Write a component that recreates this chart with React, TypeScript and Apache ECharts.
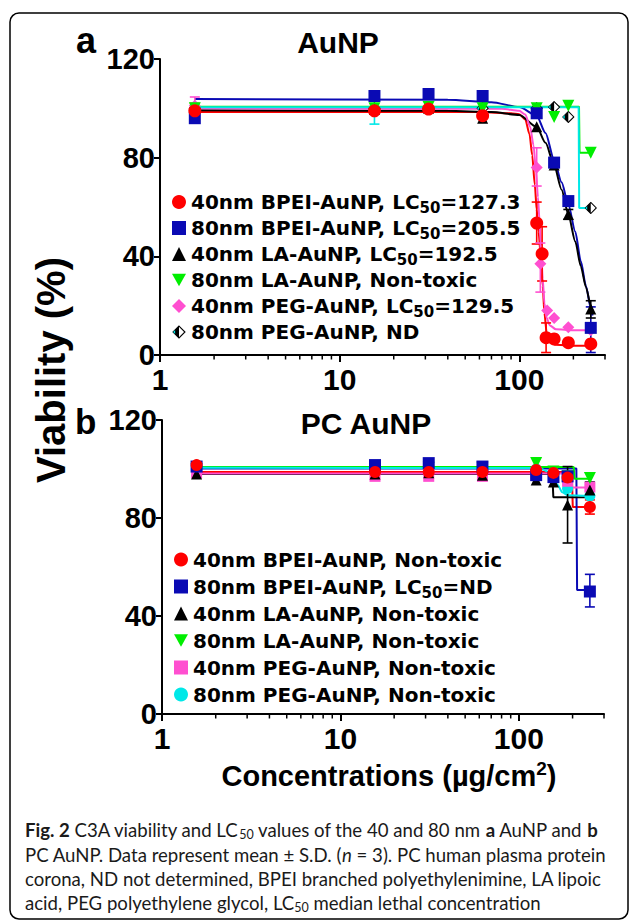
import React, { useEffect, useRef } from "react";
import * as echarts from "echarts";

// ---------- shared ----------
const CONC = [1.5625, 15.625, 31.25, 62.5, 125, 156.25, 187.5, 250];
const X_MAJOR = [1, 10, 100];
const X_MINOR = [2, 3, 4, 5, 6, 7, 8, 9, 20, 30, 40, 50, 60, 70, 80, 90, 200, 300];
const COLORS = ["#ff0000", "#0a0ab4", "#000000", "#00ee00", "#ff4fd0", "#00e8e8"];
// drawing order of the marker series (last one on top)
const MARKER_ORDER = [5, 4, 3, 2, 1, 0];

// ---------- panel a : AuNP ----------
const A_NAMES = [
  "40nm BPEI-AuNP, LC50=127.3",
  "80nm BPEI-AuNP, LC50=205.5",
  "40nm LA-AuNP, LC50=192.5",
  "80nm LA-AuNP, Non-toxic",
  "40nm PEG-AuNP, LC50=129.5",
  "80nm PEG-AuNP, ND",
];
const A_BPEI40_X = [1.5625, 15.625, 31.25, 62.5, 125, 134, 141, 156.25, 187.5, 250];
const A_BPEI40_Y = [99, 99, 99.7, 97, 53.5, 41, 7, 6.5, 5, 4.5];
const A_BPEI80_Y = [96, 105, 105.8, 105, 98, 78, 62.4, 11];
const A_LA40_Y = [99, 99.5, 100, 96, 92.5, 77, 57, 18.6];
const A_LA80_Y = [100, 100, 100.5, 100, 100, 96.5, 101, 82];
const A_PEG40_X = [1.5625, 15.625, 31.25, 62.5, 125, 131, 143, 156.25, 187.5, 250];
const A_PEG40_Y = [101, 99, 100, 98, 76, 37, 18, 15, 11.3, 10];
const A_PEG80_Y = [100, 100, 100, 100, 100, 100.5, 96.5, 59.6];

// error bars [x, low, high]
const A_BPEI40_ERR = [[1.5625, 97, 102], [125, 45, 62], [134, 30, 52], [141, 1, 13]];
const A_BPEI80_ERR = [[250, 1, 19.5]];
const A_LA40_ERR = [[250, 15, 22], [187.5, 55, 59]];
const A_PEG40_ERR = [[1.5625, 97, 104.6], [125, 68.5, 84], [131, 25.5, 45.4]];
const A_PEG80_ERR = [[15.625, 93.6, 104]];

// fitted curves [x, y]
const A_BPEI40_FIT = [[1.5625, 98.5], [60, 98.5], [90, 98], [100, 97.6], [108, 95.5], [114, 89.5], [118, 81], [122, 69], [125, 59], [128, 50], [132, 39], [135, 28], [138, 17], [142, 9], [148, 5.2], [158, 4.2], [200, 3.8], [258, 3.8]];
const A_BPEI80_FIT = [[1.5625, 103.8], [40, 103.5], [70, 102.5], [100, 100.5], [125, 97], [140, 90], [156.25, 79], [172, 70], [187.5, 61], [205, 50], [220, 38], [235, 28], [250, 19], [256, 16]];
const A_LA40_FIT = [[1.5625, 99.2], [40, 99], [70, 98.5], [100, 97.3], [125, 92.5], [140, 86], [156.25, 77], [172, 67], [187.5, 57], [205, 46], [220, 36], [235, 27.5], [250, 20], [256, 18]];
const A_LA80_FIT = [[1.5625, 100.6], [215, 100.6], [216.5, 82], [252, 82]];
const A_PEG40_FIT = [[1.5625, 100], [80, 99.8], [100, 99], [108, 97.5], [115, 92.5], [120, 85], [124, 74], [127, 64], [129.5, 55], [132, 44], [135, 31], [138, 21], [142, 15], [148, 12], [160, 10.4], [200, 10], [256, 10]];
const A_PEG80_FIT = [[1.5625, 100.4], [214, 100.4], [215.5, 59.6], [252, 59.6]];

// ---------- panel b : PC AuNP ----------
const B_NAMES = [
  "40nm BPEI-AuNP, Non-toxic",
  "80nm BPEI-AuNP, LC50=ND",
  "40nm LA-AuNP, Non-toxic",
  "80nm LA-AuNP, Non-toxic",
  "40nm PEG-AuNP, Non-toxic",
  "80nm PEG-AuNP, Non-toxic",
];
const B_BPEI40_Y = [101.6, 98.8, 98.8, 98.8, 99.6, 98.4, 96.5, 84.5];
const B_BPEI80_Y = [101, 101.6, 102.4, 101, 97.5, 96.7, 97, 50];
const B_LA40_Y = [98, 98, 98.5, 97.5, 95.5, 94.7, 85.3, 91.4];
const B_LA80_Y = [100, 100.5, 100.5, 100.5, 102.4, 99, 97, 96.3];
const B_PEG40_Y = [98.4, 97, 97, 97, 98, 96.5, 95, 92.6];
const B_PEG80_Y = [100, 100, 100, 100, 100, 96, 92, 89];

const B_BPEI40_ERR = [[250, 81.6, 87.4]];
const B_BPEI80_ERR = [[250, 43.7, 57]];
const B_LA40_ERR = [[187.5, 69.8, 101], [250, 88.6, 94.7]];

const B_BPEI40_FIT = [[1.5625, 98.8], [198, 98.8], [200.5, 84.5], [255, 84.5]];
const B_BPEI80_FIT = [[1.5625, 100.2], [210, 100.2], [212, 50.6], [252, 50.6]];
const B_LA40_FIT = [[1.5625, 98], [154, 98], [156, 88.5], [255, 88.5]];
const B_LA80_FIT = [[1.5625, 100.8], [203, 100.8], [205, 96], [255, 96]];
const B_PEG40_FIT = [[1.5625, 98.2], [195, 98.2], [197, 92.4], [255, 92.4]];
const B_PEG80_FIT = [[1.5625, 100.5], [130, 100.4], [145, 99], [155, 97], [165, 93.5], [175, 90.5], [187.5, 89.3], [255, 89]];

// ---------- symbols ----------
const INV_TRI = "path://M0,0 L10,0 L5,9 Z";
const diamondSvg =
  '<svg xmlns="http://www.w3.org/2000/svg" width="20" height="20" viewBox="0 0 20 20">' +
  '<polygon points="10,1.5 18.5,10 10,18.5 1.5,10" fill="#ffffff" stroke="#000000" stroke-width="1.6"/>' +
  '<polygon points="10,1.5 10,18.5 1.5,10" fill="#000000"/>' +
  '<polygon points="1.5,10 4.5,7 4.5,13" fill="#00e0e0"/></svg>';
const HALF_DIAMOND = "image://data:image/svg+xml;charset=utf-8," + encodeURIComponent(diamondSvg);

const A_SYMBOLS = ["circle", "rect", "triangle", INV_TRI, "diamond", HALF_DIAMOND];
const A_SIZES = [13, 12, 11, 12, 12, 13];
const B_SYMBOLS = ["circle", "rect", "triangle", INV_TRI, "rect", "circle"];
const B_SIZES = [12, 12, 11, 12, 11, 11];

const SANS = "'Liberation Sans', Arial, sans-serif";
const LEG_FONT = "'DejaVu Sans', sans-serif";
const CAP_FONT = "Lato, 'Open Sans', sans-serif";

function pairs(xs: number[], ys: number[]) {
  return ys.map((y, i) => [xs[i], y]);
}

function errRender(color: string) {
  return (params: any, api: any) => {
    const x = api.value(0);
    const a = api.coord([x, api.value(1)]);
    const b = api.coord([x, api.value(2)]);
    const w = 5;
    const st = { stroke: color, lineWidth: 1.6 };
    return {
      type: "group",
      children: [
        { type: "line", shape: { x1: a[0], y1: a[1], x2: b[0], y2: b[1] }, style: st },
        { type: "line", shape: { x1: a[0] - w, y1: a[1], x2: a[0] + w, y2: a[1] }, style: st },
        { type: "line", shape: { x1: b[0] - w, y1: b[1], x2: b[0] + w, y2: b[1] }, style: st },
      ],
    };
  };
}

function minorTickRender(params: any, api: any) {
  const p = api.coord([api.value(0), 0]);
  return {
    type: "line",
    shape: { x1: p[0], y1: p[1], x2: p[0], y2: p[1] + 4.5 },
    style: { stroke: "#000", lineWidth: 1.5 },
  };
}

function buildPanel(
  idx: number,
  names: string[],
  markers: number[][][],
  fits: number[][][],
  errs: (number[][] | null)[],
  symbols: string[],
  sizes: number[]
) {
  const out: any[] = [];
  for (let i = 0; i < names.length; i++) {
    out.push({
      type: "line",
      name: "fit" + idx + "-" + i,
      xAxisIndex: idx,
      yAxisIndex: idx,
      data: fits[i],
      showSymbol: false,
      symbol: "none",
      smooth: fits[i].length > 4 ? 0.25 : false,
      smoothMonotone: "x",
      lineStyle: { color: COLORS[i], width: 2 },
      z: 2,
      silent: true,
    });
  }
  for (let i = 0; i < names.length; i++) {
    const e = errs[i];
    if (e) {
      out.push({
        type: "custom",
        name: "err" + idx + "-" + i,
        xAxisIndex: idx,
        yAxisIndex: idx,
        data: e,
        encode: { x: 0, y: [1, 2] },
        renderItem: errRender(COLORS[i]),
        clip: false,
        z: 3,
        silent: true,
      });
    }
  }
  for (const i of MARKER_ORDER) {
    out.push({
      type: "scatter",
      name: names[i],
      xAxisIndex: idx,
      yAxisIndex: idx,
      data: markers[i],
      symbol: symbols[i],
      symbolSize: sizes[i],
      itemStyle: { color: COLORS[i], opacity: 1 },
      z: 4,
      silent: true,
    });
  }
  out.push({
    type: "custom",
    name: "minor" + idx,
    xAxisIndex: idx,
    yAxisIndex: idx,
    data: X_MINOR.map((v) => [v, 0]),
    encode: { x: 0, y: 1 },
    renderItem: minorTickRender,
    clip: false,
    z: 5,
    silent: true,
  });
  return out;
}

function xAxisFor(idx: number) {
  return {
    type: "log",
    logBase: 10,
    gridIndex: idx,
    min: 1,
    max: 300,
    axisLine: { show: true, onZero: false, lineStyle: { color: "#000", width: 2 } },
    axisTick: { show: true, length: 7, customValues: X_MAJOR, lineStyle: { color: "#000", width: 2 } },
    axisLabel: {
      customValues: X_MAJOR,
      formatter: (v: number) => (X_MAJOR.indexOf(Math.round(v)) >= 0 ? String(Math.round(v)) : ""),
      color: "#000",
      fontFamily: SANS,
      fontWeight: "bold",
      fontSize: 30,
      margin: 9,
    },
    splitLine: { show: false },
    minorTick: { show: false },
  };
}

function yAxisFor(idx: number) {
  return {
    type: "value",
    gridIndex: idx,
    min: 0,
    max: 120,
    interval: 40,
    axisLine: { show: true, lineStyle: { color: "#000", width: 2 } },
    axisTick: { show: true, length: 6, lineStyle: { color: "#000", width: 2 } },
    axisLabel: { color: "#000", fontFamily: SANS, fontWeight: "bold", fontSize: 29, margin: 5 },
    splitLine: { show: false },
  };
}

function legendFor(names: string[], symbols: string[], left: number, top: number, lh: number) {
  return {
    orient: "vertical",
    left,
    top,
    padding: 0,
    itemGap: 0,
    itemWidth: 14,
    itemHeight: 14,
    selectedMode: false,
    data: names.map((n, i) => ({ name: n, icon: symbols[i] })),
    formatter: (n: string) => n.replace("LC50", "LC{sub|50}"),
    textStyle: {
      color: "#000",
      fontFamily: LEG_FONT,
      fontWeight: "bold",
      fontSize: 20,
      lineHeight: lh,
      rich: {
        sub: {
          color: "#000",
          fontFamily: LEG_FONT,
          fontWeight: "bold",
          fontSize: 15,
          lineHeight: 14,
          verticalAlign: "bottom",
        },
      },
    },
  };
}

const CAPTION_LINES = [
  "{b|Fig. 2} C3A viability and LC{s|50} values of the 40 and 80 nm {b|a} AuNP and {b|b}",
  "PC AuNP. Data represent mean ± S.D. ({i|n} = 3). PC human plasma protein",
  "corona, ND not determined, BPEI branched polyethylenimine, LA lipoic",
  "acid, PEG polyethylene glycol, LC{s|50} median lethal concentration",
];
const CAPTION_Y = [830, 855, 879, 903];

export default function App() {
  const ref = useRef<HTMLDivElement>(null);
  useEffect(() => {
    document.body.style.margin = "0";
    if (!ref.current) return;
    const chart = echarts.init(ref.current, null, { renderer: "svg" });

    const aMarkers = [
      pairs(A_BPEI40_X, A_BPEI40_Y),
      pairs(CONC, A_BPEI80_Y),
      pairs(CONC, A_LA40_Y),
      pairs(CONC, A_LA80_Y),
      pairs(A_PEG40_X, A_PEG40_Y),
      pairs(CONC, A_PEG80_Y),
    ];
    const aFits = [A_BPEI40_FIT, A_BPEI80_FIT, A_LA40_FIT, A_LA80_FIT, A_PEG40_FIT, A_PEG80_FIT];
    const aErrs = [A_BPEI40_ERR, A_BPEI80_ERR, A_LA40_ERR, null, A_PEG40_ERR, A_PEG80_ERR];
    const bMarkers = [
      pairs(CONC, B_BPEI40_Y),
      pairs(CONC, B_BPEI80_Y),
      pairs(CONC, B_LA40_Y),
      pairs(CONC, B_LA80_Y),
      pairs(CONC, B_PEG40_Y),
      pairs(CONC, B_PEG80_Y),
    ];
    const bFits = [B_BPEI40_FIT, B_BPEI80_FIT, B_LA40_FIT, B_LA80_FIT, B_PEG40_FIT, B_PEG80_FIT];
    const bErrs = [B_BPEI40_ERR, B_BPEI80_ERR, B_LA40_ERR, null, null, null];

    const capSize = 18.6;
    const capRich = {
      b: { fontFamily: CAP_FONT, fontWeight: "bold", fontSize: capSize, fill: "#1a1a1a" },
      s: { fontFamily: CAP_FONT, fontSize: 12.5, lineHeight: 12, verticalAlign: "bottom", fill: "#1a1a1a" },
      i: { fontFamily: CAP_FONT, fontStyle: "italic", fontSize: capSize, fill: "#1a1a1a" },
    };

    const graphics: any[] = [
      {
        type: "rect",
        shape: { x: 10, y: 13, width: 618, height: 906, r: 9 },
        style: { fill: "none", stroke: "#000", lineWidth: 1.5 },
        z: -10,
        silent: true,
      },
      { type: "text", style: { text: "a", x: 76, y: 40, fontFamily: SANS, fontWeight: "bold", fontSize: 36, fill: "#000", align: "left", verticalAlign: "middle" } },
      { type: "text", style: { text: "AuNP", x: 338, y: 42, fontFamily: SANS, fontWeight: "bold", fontSize: 30, fill: "#000", align: "center", verticalAlign: "middle" } },
      { type: "text", style: { text: "b", x: 75, y: 421, fontFamily: SANS, fontWeight: "bold", fontSize: 35, fill: "#000", align: "left", verticalAlign: "middle" } },
      { type: "text", style: { text: "PC AuNP", x: 366, y: 423, fontFamily: SANS, fontWeight: "bold", fontSize: 30, fill: "#000", align: "center", verticalAlign: "middle" } },
      {
        type: "text",
        x: 51,
        y: 370,
        rotation: Math.PI / 2,
        style: { text: "Viability (%)", x: 0, y: 0, fontFamily: SANS, fontWeight: "bold", fontSize: 40, fill: "#000", align: "center", verticalAlign: "middle" },
      },
      {
        type: "text",
        style: {
          text: "Concentrations (µg/cm{sup|2})",
          x: 389,
          y: 776,
          fontFamily: SANS,
          fontWeight: "bold",
          fontSize: 29,
          lineHeight: 34,
          fill: "#000",
          align: "center",
          verticalAlign: "middle",
          rich: {
            sup: { fontFamily: SANS, fontWeight: "bold", fontSize: 19, lineHeight: 19, verticalAlign: "top", fill: "#000" },
          },
        },
      },
    ];
    CAPTION_LINES.forEach((t, i) => {
      graphics.push({
        type: "text",
        style: {
          text: t,
          x: 25,
          y: CAPTION_Y[i],
          fontFamily: CAP_FONT,
          fontSize: capSize,
          lineHeight: 22,
          fill: "#1a1a1a",
          align: "left",
          verticalAlign: "middle",
          rich: capRich,
        },
      });
    });

    chart.setOption({
      animation: false,
      backgroundColor: "#ffffff",
      grid: [
        { left: 160, top: 59, width: 445, height: 296 },
        { left: 162, top: 420, width: 442, height: 294 },
      ],
      xAxis: [xAxisFor(0), xAxisFor(1)],
      yAxis: [yAxisFor(0), yAxisFor(1)],
      legend: [
        legendFor(A_NAMES, A_SYMBOLS, 172, 189, 26),
        legendFor(B_NAMES, B_SYMBOLS, 174, 546, 27),
      ],
      series: [
        ...buildPanel(0, A_NAMES, aMarkers, aFits, aErrs, A_SYMBOLS, A_SIZES),
        ...buildPanel(1, B_NAMES, bMarkers, bFits, bErrs, B_SYMBOLS, B_SIZES),
      ],
      graphic: graphics,
    });
    return () => chart.dispose();
  }, []);
  return <div ref={ref} style={{ width: 629, height: 921 }} />;
}
